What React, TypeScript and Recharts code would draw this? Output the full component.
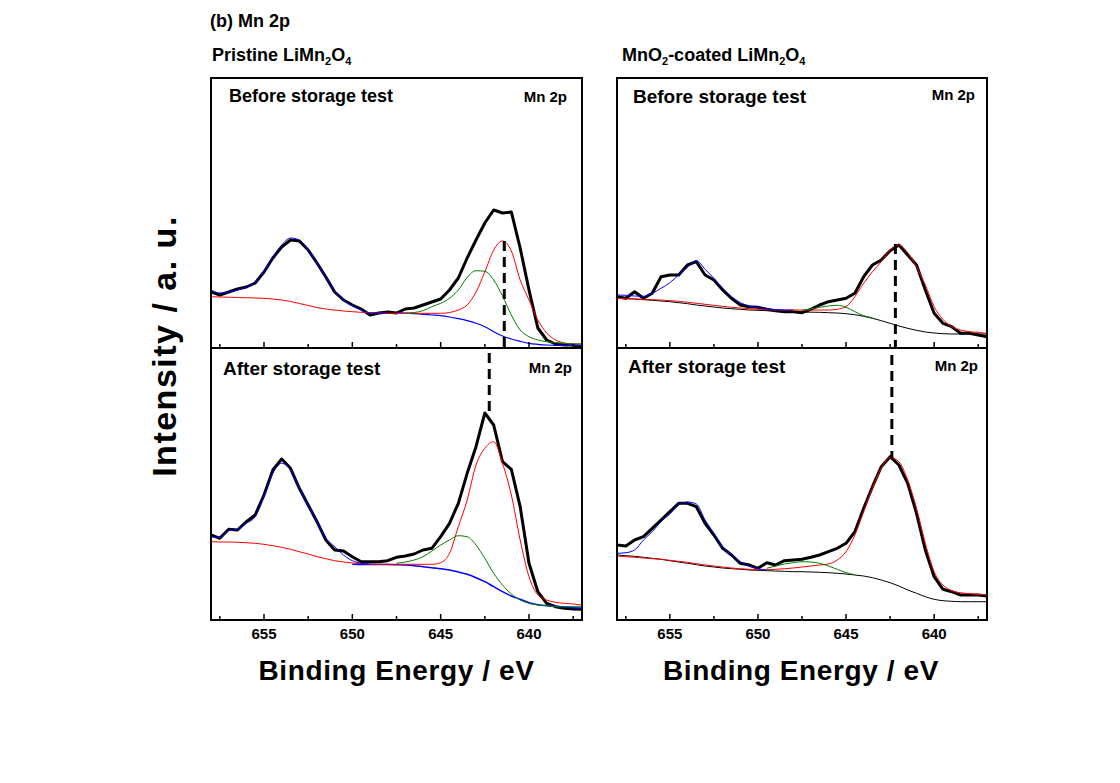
import React from 'react';
import { LineChart, Line, XAxis, YAxis, ReferenceLine } from 'recharts';

const FONT = '"Liberation Sans", Arial, sans-serif';

// binding energy, eV (shared by all four panels)
const energy = [
  658, 657.5, 657, 656.5, 656, 655.5, 655, 654.5, 654, 653.5,
  653, 652.5, 652, 651.5, 651, 650.5, 650, 649.5, 649, 648.5,
  648, 647.5, 647, 646.5, 646, 645.5, 645, 644.5, 644, 643.5,
  643, 642.5, 642, 641.5, 641, 640.5, 640, 639.5, 639, 638.5,
  638, 637.5, 637,
];
const majorTicks = [655, 650, 645, 640];
const allTicks = [657.5, 655, 652.5, 650, 647.5, 645, 642.5, 640, 637.5];

const _ = null;

// Pristine, before storage
const tlBlack = [56, 53, 56, 59, 61, 65, 76, 90, 101, 108, 107, 98, 85, 71, 56, 48, 43, 39, 33, 35, 36, 35, 39, 40, 43, 46, 49, 58, 70, 90, 108, 125, 138, 135, 136, 100, 58, 20, 8, 4, 3, 3, 1];
const tlFit = [58, 55, 56, 58, 61, 66, 77, 91, 103, 110, 108, 98, 85, 71, 57, 48, 42, 38, 35, 35, 35, _, _, _, _, _, _, _, _, _, _, _, _, _, _, _, _, _, _, _, _, _, _];
const tlRed = [51.3, 51, 50.8, 50.5, 50.3, 50, 49.7, 49, 48, 46.5, 44.5, 42.5, 40.5, 39, 38, 37, 36.3, 35.7, 35.3, 35, 34.7, 34.7, 34.7, 34.7, 34.7, 34.7, 34.7, 35.5, 38, 43, 56, 76, 98, 107, 97, 68, 48, 28, 15, 8, 5, 4, 4];
const tlGreen = [_, _, _, _, _, _, _, _, _, _, _, _, _, _, _, _, _, _, _, _, _, _, 35, 35.5, 37.3, 41.3, 44.7, 49.7, 58, 70.7, 77.3, 76.7, 68, 52, 33, 18, 11.3, 8, 6.3, 5.3, 4.7, 4, 4];
const tlBase = [_, _, _, _, _, _, _, _, _, _, _, _, _, _, _, _, _, _, _, _, _, 35.3, 35, 34.3, 33.7, 33, 32.3, 31, 29.3, 27.3, 24.7, 21.3, 16.3, 12, 9, 6.7, 4.7, 3.7, 3, 2.7, 2.7, 2.7, 2.7];
const tlDash = [641.4, 107, 0];

// Pristine, after storage
const blBlack = [85, 81.7, 90.7, 90, 98.3, 105, 125, 150, 161, 151.7, 131.7, 115, 98.3, 80, 70, 69, 63.3, 58.3, 58.3, 58.3, 59.3, 62.7, 64, 66, 70, 71.7, 83.3, 96.7, 116.7, 146.7, 173.3, 207, 195, 158.3, 150.7, 113.3, 56.7, 28.3, 16.7, 13.3, 11.7, 11, 10.7];
const blFit = [83.3, 82.3, 89.3, 90.7, 96.7, 103.3, 123.3, 146.7, 156.7, 150, 131.7, 115, 98.3, 81.7, 73.3, 65, 59.3, 56.7, 56, _, _, _, _, _, _, _, _, _, _, _, _, _, _, _, _, _, _, _, _, _, _, _, _];
const blRed = [78.3, 78, 78, 77.7, 77.3, 76.7, 75.7, 74.3, 72.7, 70.7, 68.3, 66, 63.3, 61.3, 59.3, 58, 57, 56.3, 56, 55.7, 55.7, 55.7, 55.7, 55.7, 55.7, 55.7, 57.3, 66.7, 93.3, 120, 155, 171.7, 178.3, 156.7, 125, 80, 43.3, 25, 20, 17.7, 16.7, 16, 15];
const blGreen = [_, _, _, _, _, _, _, _, _, _, _, _, _, _, _, _, _, _, _, _, _, 56.7, 58, 60, 63.3, 69, 75, 80, 84.3, 83.3, 75, 61.7, 46.7, 35, 26, 20, 16.7, 15, 14.3, 13.3, 13.3, 13.3, 13.3];
const blBase = [_, _, _, _, _, _, _, _, _, _, _, _, _, _, _, _, 55.7, 55.5, 55.5, 55.5, 55.5, 55.3, 55, 54.3, 53.3, 52.3, 51.3, 50, 48, 45.7, 42.3, 38.3, 33.3, 28.3, 24, 20.7, 17.3, 15.3, 14.3, 13.7, 13, 12.3, 11.7];
const blDash = [642.25, 267, 208];

// MnO2-coated, before storage
const trBlack = [51.3, 49.7, 56.3, 49.7, 54.7, 71.3, 73, 73, 83, 86.3, 73, 68, 58, 49.7, 43, 41.3, 40.7, 38.7, 37.3, 36.3, 36.3, 35.3, 38.7, 43, 46.3, 48, 49.7, 54.7, 71.3, 83, 88, 97.3, 103, 93, 83, 58, 34.7, 24.7, 21.3, 14.7, 14.7, 13, 11.3];
const trFit = [53, 52.7, 52, 51.7, 54.7, 59.7, 65.3, 73, 80.7, 87.3, 78.7, 69.7, 59.7, 51.3, 45.3, 42, 40.3, 39, 38.3, 38, 38, _, _, _, _, _, _, _, _, _, _, _, _, _, _, _, _, _, _, _, _, _, _];
const trRed = [49.7, 49.3, 49, 48.7, 48.3, 48, 47.3, 46.7, 45.7, 44.7, 43.7, 42.7, 41.7, 40.7, 40, 39.3, 38.7, 38.3, 38, 38, 38, 38, 38, 38, 38, 38.7, 41.3, 51.3, 64.7, 76.3, 86.3, 98, 103, 95.3, 81.3, 63, 41.3, 28.7, 21.3, 18, 16.3, 15.7, 14.7];
const trGreen = [_, _, _, _, _, _, _, _, _, _, _, _, _, _, _, _, _, _, _, _, _, 37.7, 39, 40.7, 42, 42.7, 40.7, 36.3, 32.3, 30.3, _, _, _, _, _, _, _, _, _, _, _, _, _];
const trBase = [49.7, 49.3, 49, 48.3, 47.7, 47, 46.3, 45.3, 44.3, 43, 42, 41, 40, 39.3, 38.7, 38, 37.7, 37.3, 37, 36.7, 36.3, 36, 35.8, 35.7, 35.3, 35, 34.3, 33.3, 31.7, 29.7, 27.3, 24.7, 22, 19.7, 17.7, 16, 15, 14.3, 14, 14, 14, 14, 14];
const trDash = [642.2, 104, 0];

// MnO2-coated, after storage
const brBlack = [75, 74, 80, 83.3, 91.7, 100, 108.3, 116.7, 116.7, 113.3, 96.7, 85, 71.7, 65, 56.7, 55, 51.7, 57.3, 55, 59.3, 60, 60.7, 62.7, 65, 68.3, 71.7, 76.7, 88.3, 111.7, 133.3, 153.3, 163.3, 155, 136.7, 106.7, 70, 43.3, 30.7, 28.3, 25, 25, 25, 24];
const brFit = [66.7, 67.3, 70, 80, 88.3, 98.3, 106, 115, 118, 116, 100, 86.7, 73.3, 65, 58.3, 54, 51.3, 50, _, _, _, _, _, _, _, _, _, _, _, _, _, _, _, _, _, _, _, _, _, _, _, _, _];
const brRed = [64, 63.3, 62.7, 62, 61.3, 60.7, 59.7, 58.7, 57.7, 56.3, 55, 54, 53, 52, 51.3, 50.7, 50.3, 50.3, 50.7, 51.3, 52, 53, 54, 55, 56, 60, 68.3, 85, 108.3, 131.7, 151.7, 162.7, 158.3, 140, 111.7, 76.7, 48.3, 35, 29.3, 27.3, 26.3, 25.7, 25];
const brGreen = [_, _, _, _, _, _, _, _, _, _, _, _, _, _, _, _, _, 51.7, 54, 56, 57.3, 58.3, 58, 56.7, 54, 50.7, 47.3, 45.3, _, _, _, _, _, _, _, _, _, _, _, _, _, _, _];
const brBase = [65, 64.3, 63.7, 62.7, 61.7, 60.7, 59.3, 58, 56.7, 55.3, 54, 53, 52, 51.3, 50.7, 50, 49.7, 49.3, 49, 48.7, 48.3, 48.3, 48, 47.7, 47.3, 46.7, 46, 45, 44, 42.3, 40, 37.3, 34, 30, 26.7, 23.3, 20.7, 19.3, 18.7, 18.3, 18.3, 18.3, 18.3];
const brDash = [642.4, 265, 162];

type Curve = {
  name: string;
  values: (number | null)[];
  color: string;
  width: number;
  smooth: boolean;
};

interface PanelProps {
  left: number;
  top: number;
  width: number;
  height: number;
  curves: Curve[];
  dash: number[];
  labels: boolean;
}

// inward tick: long for labelled energies, short in between
function EnergyTick(props: any) {
  const { x, y, payload, labels } = props;
  const major = majorTicks.includes(payload.value);
  return (
    <g>
      <line x1={x} x2={x} y1={y} y2={y - (major ? 6 : 4)} stroke="#000" strokeWidth={1.5} />
      {labels && major && (
        <text
          x={x}
          y={y + 19}
          textAnchor="middle"
          fill="#000"
          fontSize={15}
          fontWeight={700}
          fontFamily={FONT}
        >
          {payload.value}
        </text>
      )}
    </g>
  );
}

function Panel({ left, top, width, height, curves, dash, labels }: PanelProps) {
  const data = energy.map((e, i) => {
    const row: Record<string, number | null> = { e };
    curves.forEach((c) => {
      row[c.name] = c.values[i];
    });
    return row;
  });

  return (
    <div style={{ position: 'absolute', left, top }}>
      <LineChart
        width={width}
        height={height + 30}
        data={data}
        margin={{ top: 0, right: 0, bottom: 0, left: 0 }}
      >
        <XAxis
          dataKey="e"
          type="number"
          domain={[637, 658]}
          reversed
          allowDataOverflow
          ticks={allTicks}
          interval={0}
          tickSize={0}
          tickMargin={0}
          tickLine={false}
          axisLine={false}
          tick={<EnergyTick labels={labels} />}
          height={30}
        />
        <YAxis hide domain={[0, height]} />
        {curves.map((c) => (
          <Line
            key={c.name}
            dataKey={c.name}
            type={c.smooth ? 'monotone' : 'linear'}
            stroke={c.color}
            strokeWidth={c.width}
            strokeLinejoin="round"
            dot={false}
            activeDot={false}
            connectNulls={false}
            isAnimationActive={false}
          />
        ))}
        <ReferenceLine
          segment={[
            { x: dash[0], y: dash[1] },
            { x: dash[0], y: dash[2] },
          ]}
          stroke="#000"
          strokeWidth={3}
          strokeDasharray="10 6"
        />
      </LineChart>
    </div>
  );
}

const BLUE = '#0000ff';
const RED = '#ff0000';
const GREEN = '#008000';

export default function App() {
  return (
    <div
      style={{
        position: 'relative',
        width: 1120,
        height: 783,
        margin: -8,
        background: '#fff',
        overflow: 'hidden',
      }}
    >
      <Panel
        left={211}
        top={78}
        width={371}
        height={270}
        labels={false}
        dash={tlDash}
        curves={[
          { name: 'black', values: tlBlack, color: '#000', width: 3, smooth: false },
          { name: 'base', values: tlBase, color: BLUE, width: 1.2, smooth: true },
          { name: 'red', values: tlRed, color: RED, width: 1, smooth: true },
          { name: 'green', values: tlGreen, color: GREEN, width: 1, smooth: true },
          { name: 'fit', values: tlFit, color: BLUE, width: 1, smooth: true },
        ]}
      />
      <Panel
        left={211}
        top={348}
        width={371}
        height={272}
        labels
        dash={blDash}
        curves={[
          { name: 'black', values: blBlack, color: '#000', width: 3, smooth: false },
          { name: 'base', values: blBase, color: BLUE, width: 1.5, smooth: true },
          { name: 'red', values: blRed, color: RED, width: 1, smooth: true },
          { name: 'green', values: blGreen, color: GREEN, width: 1, smooth: true },
          { name: 'fit', values: blFit, color: BLUE, width: 1, smooth: true },
        ]}
      />
      <Panel
        left={617}
        top={78}
        width={370}
        height={270}
        labels={false}
        dash={trDash}
        curves={[
          { name: 'black', values: trBlack, color: '#000', width: 3, smooth: false },
          { name: 'base', values: trBase, color: '#000', width: 1, smooth: true },
          { name: 'red', values: trRed, color: RED, width: 1, smooth: true },
          { name: 'green', values: trGreen, color: GREEN, width: 1, smooth: true },
          { name: 'fit', values: trFit, color: BLUE, width: 1, smooth: true },
        ]}
      />
      <Panel
        left={617}
        top={348}
        width={370}
        height={272}
        labels
        dash={brDash}
        curves={[
          { name: 'black', values: brBlack, color: '#000', width: 3, smooth: false },
          { name: 'base', values: brBase, color: '#000', width: 1, smooth: true },
          { name: 'red', values: brRed, color: RED, width: 1, smooth: true },
          { name: 'green', values: brGreen, color: GREEN, width: 1, smooth: true },
          { name: 'fit', values: brFit, color: BLUE, width: 1, smooth: true },
        ]}
      />

      <svg
        width={1120}
        height={783}
        style={{ position: 'absolute', left: 0, top: 0, pointerEvents: 'none' }}
        fontFamily={FONT}
        fontWeight="bold"
        fill="#000"
      >
        <rect x={211} y={78} width={371} height={270} fill="none" stroke="#000" strokeWidth={2} />
        <rect x={211} y={348} width={371} height={272} fill="none" stroke="#000" strokeWidth={2} />
        <rect x={617} y={78} width={370} height={270} fill="none" stroke="#000" strokeWidth={2} />
        <rect x={617} y={348} width={370} height={272} fill="none" stroke="#000" strokeWidth={2} />

        <text x={210} y={27} fontSize={18}>(b) Mn 2p</text>
        <text x={212} y={61} fontSize={18}>
          Pristine LiMn<tspan fontSize={11} dy={4}>2</tspan>
          <tspan dy={-4}>O</tspan>
          <tspan fontSize={11} dy={4}>4</tspan>
        </text>
        <text x={622} y={61} fontSize={18}>
          MnO<tspan fontSize={11} dy={4}>2</tspan>
          <tspan dy={-4}>-coated LiMn</tspan>
          <tspan fontSize={11} dy={4}>2</tspan>
          <tspan dy={-4}>O</tspan>
          <tspan fontSize={11} dy={4}>4</tspan>
        </text>

        <text x={229} y={102} fontSize={18}>Before storage test</text>
        <text x={567} y={102} fontSize={15} textAnchor="end">Mn 2p</text>
        <text x={633} y={103} fontSize={19}>Before storage test</text>
        <text x={975} y={100} fontSize={15} textAnchor="end">Mn 2p</text>
        <text x={223} y={375} fontSize={19}>After storage test</text>
        <text x={572} y={373} fontSize={15} textAnchor="end">Mn 2p</text>
        <text x={628} y={373} fontSize={19}>After storage test</text>
        <text x={978} y={371} fontSize={15} textAnchor="end">Mn 2p</text>

        <text x={396.5} y={680} fontSize={28} textAnchor="middle" letterSpacing={0.6}>
          Binding Energy / eV
        </text>
        <text x={801} y={680} fontSize={28} textAnchor="middle" letterSpacing={0.6}>
          Binding Energy / eV
        </text>
        <text
          transform="translate(176,346) rotate(-90)"
          fontSize={34}
          textAnchor="middle"
          letterSpacing={1.5}
        >
          Intensity / a. u.
        </text>
      </svg>
    </div>
  );
}
